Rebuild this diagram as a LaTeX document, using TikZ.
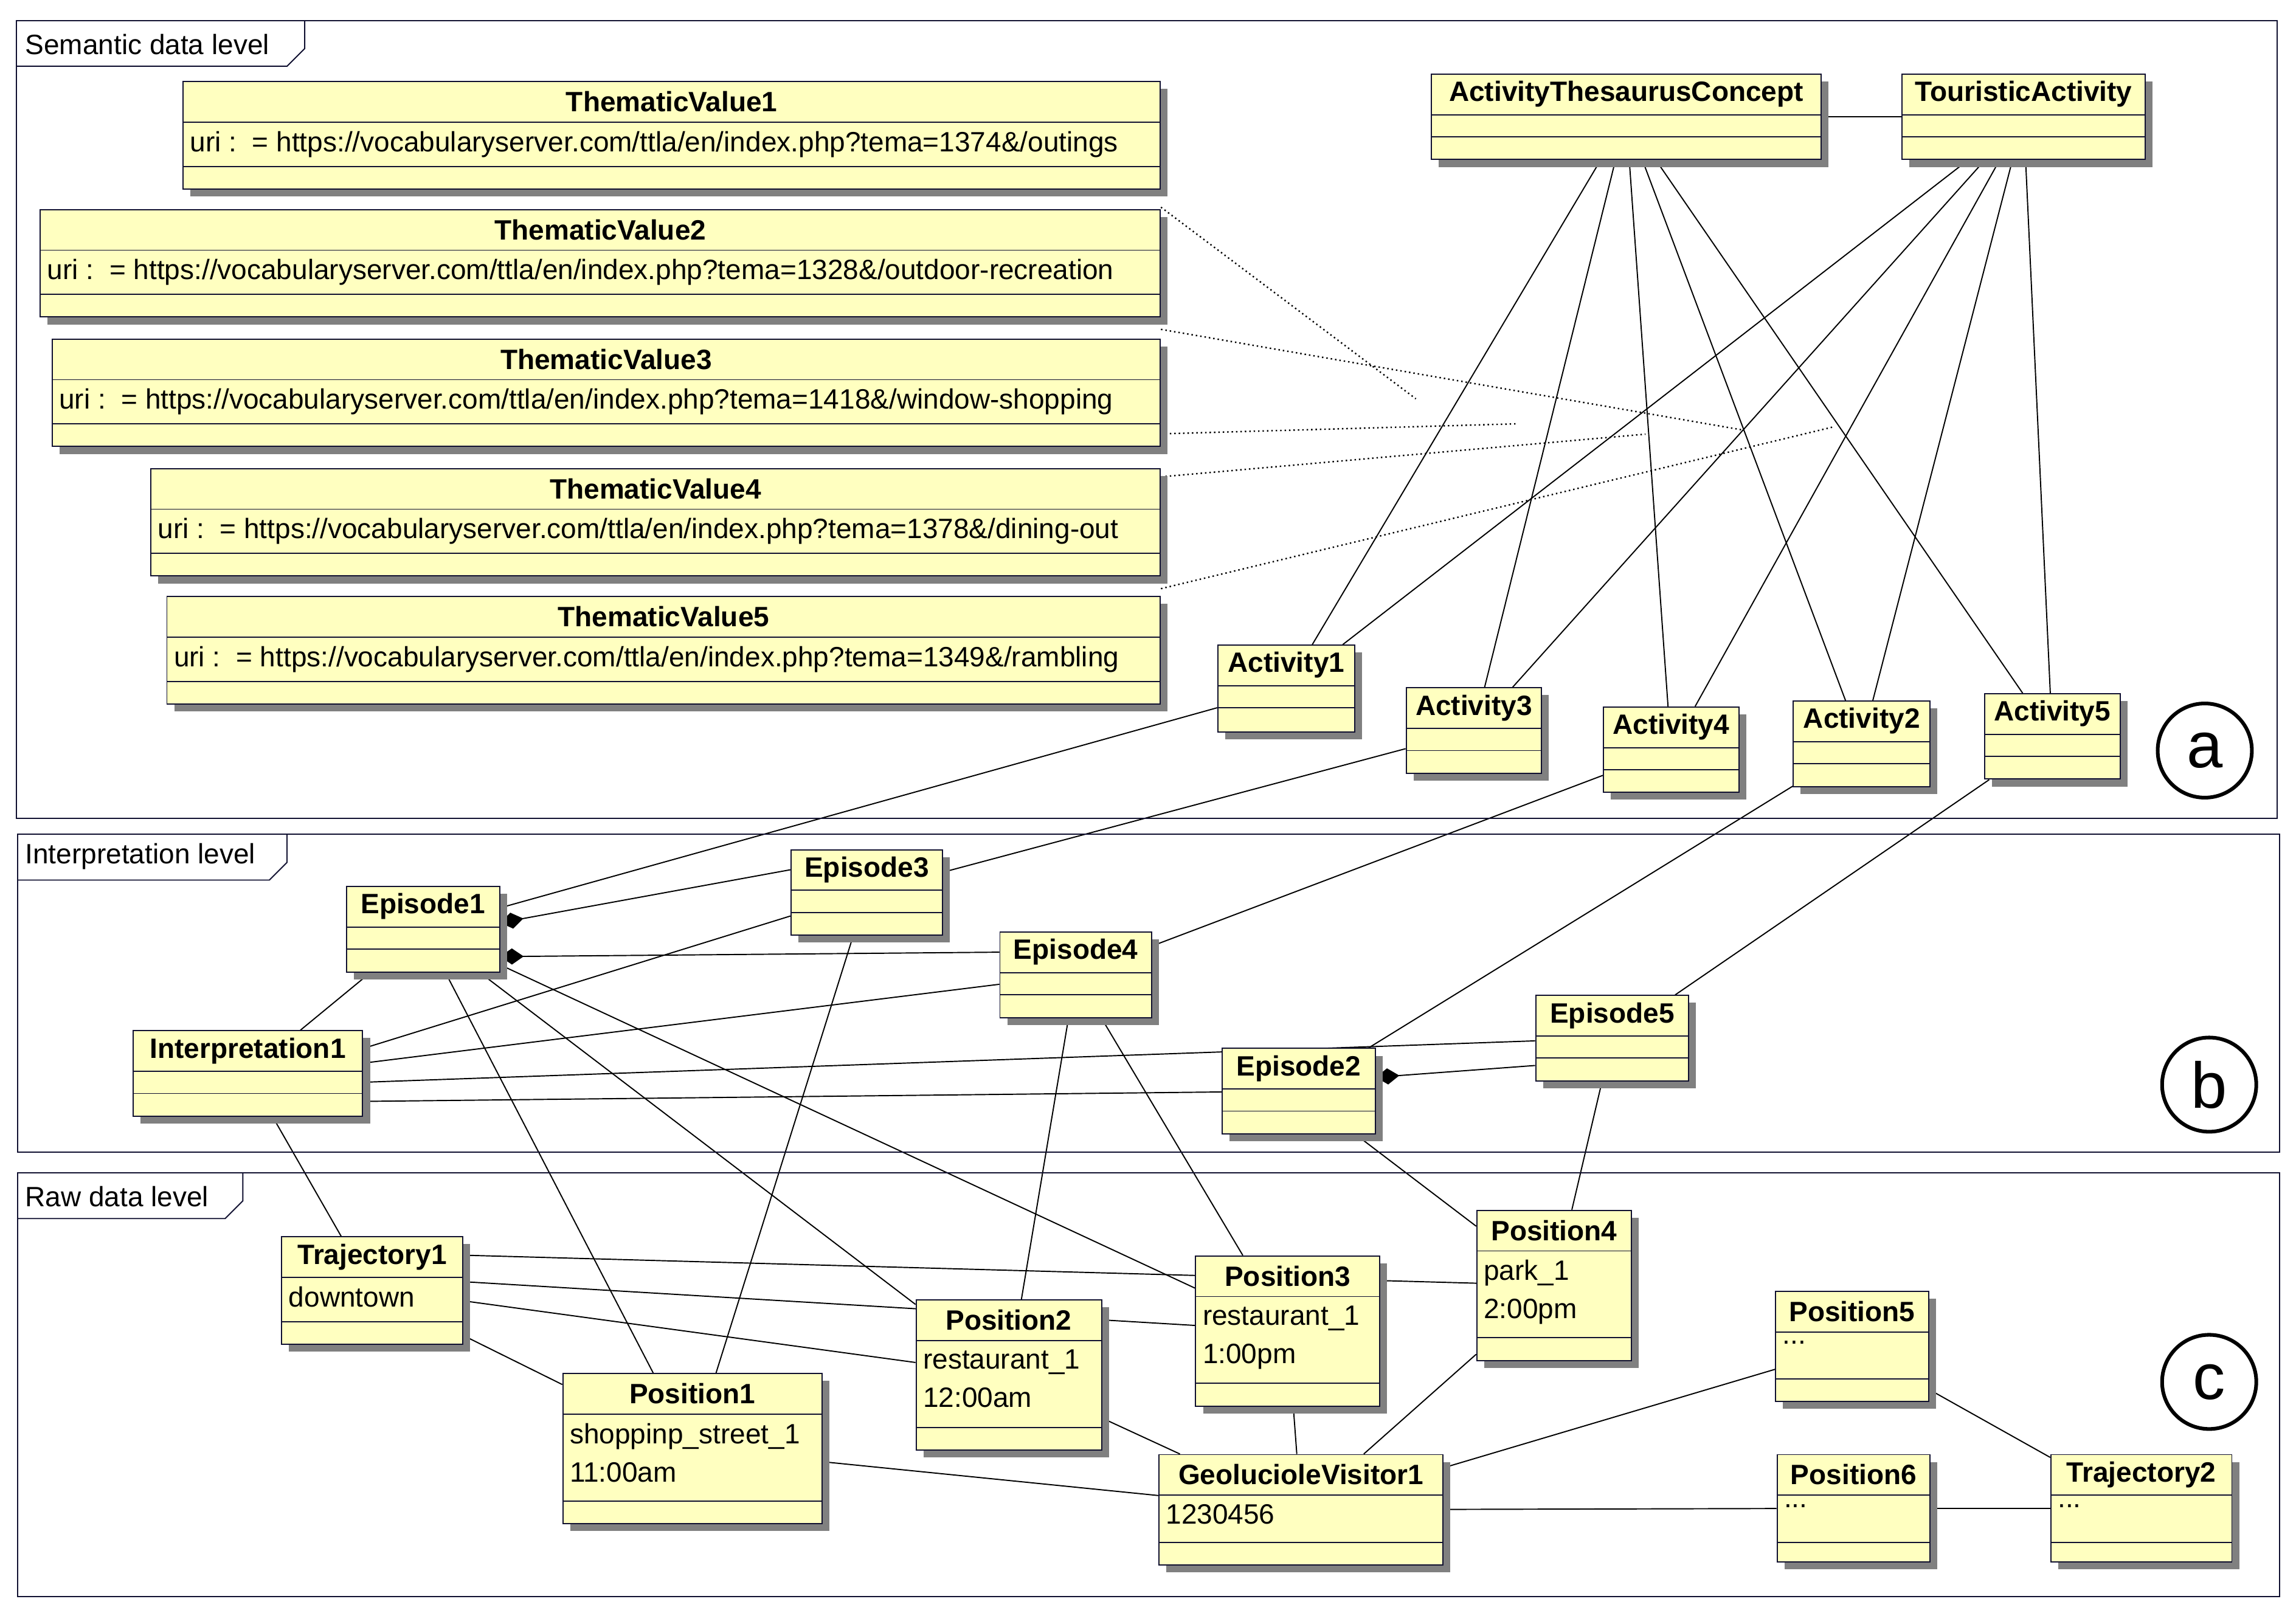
\documentclass[tikz,border=0pt]{standalone}
\usepackage{fontspec}
\setmainfont{Liberation Sans}
\usetikzlibrary{shapes,arrows.meta,positioning,calc,shadows}
\definecolor{clsfill}{RGB}{255,255,192}
\definecolor{clsdraw}{RGB}{16,16,48}
\pgfdeclarelayer{background}
\pgfsetlayers{background,main}

% UML class box: name, x, y, width, height, title, attributes, divider 1, divider 2
\newcommand{\umlclass}[9]{%
  \node[cls, minimum width=#4pt, minimum height=#5pt, anchor=north west] (#1) at (#2,#3) {};
  \draw[clsdraw, thick] ([yshift=-#8pt]#1.north west) -- ([yshift=-#8pt]#1.north east);
  \draw[clsdraw, thick] ([yshift=-#9pt]#1.north west) -- ([yshift=-#9pt]#1.north east);
  \node[font=\fontsize{19}{22}\selectfont\bfseries, inner sep=0pt] at ([yshift={-0.5pt*#8}]#1.north) {#6};
  \node[attr] at ([yshift=-#8pt]#1.north west) {#7};
}

\begin{document}
\begin{tikzpicture}[
    x=1pt, y=-1pt,
    cls/.style={
        rectangle, fill=clsfill, draw=clsdraw, thick, inner sep=0pt,
        drop shadow={shadow xshift=5pt, shadow yshift=-5pt, fill=gray, opacity=1}
    },
    attr/.style={
        anchor=north west, align=left, inner xsep=5pt, inner ysep=6pt,
        font=\fontsize{19}{26}\selectfont
    },
    frame/.style={draw=clsdraw, thick},
    tab/.style={anchor=west, font=\fontsize{19}{22}\selectfont, inner sep=0pt},
    level/.style={draw, line width=2.5pt, circle, minimum size=64pt, inner sep=0pt,
        font=\fontsize{44}{48}\selectfont},
    link/.style={draw, line width=0.8pt},
    trace/.style={draw, line width=1pt, dotted},
    comp/.style={link, -{Diamond[length=16pt, width=11pt]}}
]
\useasboundingbox (0,0) rectangle (1560,1096);

% Frames
\draw[frame] (11,14) rectangle (1547,556);
\draw[frame] (11,45) -- (195,45) -- (207,33) -- (207,14);
\node[tab] at (17,30) {Semantic data level};
\draw[frame] (12,567) rectangle (1549,783);
\draw[frame] (12,598) -- (183,598) -- (195,586) -- (195,567);
\node[tab] at (17,582) {Interpretation level};
\draw[frame] (12,797) rectangle (1549,1085);
\draw[frame] (12,828) -- (153,828) -- (165,816) -- (165,797);
\node[tab] at (17,813) {Raw data level};
\node[level] (la) at (1498,510) {a};
\node[level] (lb) at (1501,737) {b};
\node[level] (lc) at (1501,939) {c};

% Semantic data level
\umlclass{tv1}{124}{55}{664}{73}{ThematicValue1}{uri :\ \ = https://vocabularyserver.com/ttla/en/index.php?tema=1374\&/outings}{28}{58}
\umlclass{tv2}{27}{142}{761}{73}{ThematicValue2}{uri :\ \ = https://vocabularyserver.com/ttla/en/index.php?tema=1328\&/outdoor-recreation}{28}{58}
\umlclass{tv3}{35}{230}{753}{73}{ThematicValue3}{uri :\ \ = https://vocabularyserver.com/ttla/en/index.php?tema=1418\&/window-shopping}{28}{58}
\umlclass{tv4}{102}{318}{686}{73}{ThematicValue4}{uri :\ \ = https://vocabularyserver.com/ttla/en/index.php?tema=1378\&/dining-out}{28}{58}
\umlclass{tv5}{113}{405}{675}{73}{ThematicValue5}{uri :\ \ = https://vocabularyserver.com/ttla/en/index.php?tema=1349\&/rambling}{28}{58}
\umlclass{atc}{972}{50}{265}{58}{ActivityThesaurusConcept}{}{28}{43}
\umlclass{ta}{1292}{50}{165}{58}{TouristicActivity}{}{28}{43}
\umlclass{act1}{827}{438}{93}{59}{Activity1}{}{28}{43}
\umlclass{act3}{955}{467}{92}{58}{Activity3}{}{28}{43}
\umlclass{act4}{1089}{480}{92}{58}{Activity4}{}{28}{43}
\umlclass{act2}{1218}{476}{93}{58}{Activity2}{}{28}{43}
\umlclass{act5}{1348}{471}{92}{58}{Activity5}{}{28}{43}

% Interpretation level
\umlclass{ep1}{235}{602}{104}{58}{Episode1}{}{28}{43}
\umlclass{ep3}{537}{577}{103}{58}{Episode3}{}{28}{43}
\umlclass{ep4}{679}{633}{103}{58}{Episode4}{}{28}{43}
\umlclass{ep5}{1043}{676}{104}{58}{Episode5}{}{28}{43}
\umlclass{ep2}{830}{712}{104}{58}{Episode2}{}{28}{43}
\umlclass{interp}{90}{700}{156}{58}{Interpretation1}{}{28}{43}

% Raw data level
\umlclass{traj1}{191}{840}{123}{73}{Trajectory1}{downtown}{28}{58}
\umlclass{pos1}{382}{933}{176}{102}{Position1}{shoppinp\_street\_1\\11:00am}{28}{87}
\umlclass{pos2}{622}{883}{126}{102}{Position2}{restaurant\_1\\12:00am}{28}{87}
\umlclass{pos3}{812}{853}{125}{102}{Position3}{restaurant\_1\\1:00pm}{28}{87}
\umlclass{pos4}{1003}{822}{105}{102}{Position4}{park\_1\\2:00pm}{28}{87}
\umlclass{pos5}{1206}{877}{104}{75}{Position5}{...}{28}{60}
\umlclass{pos6}{1207}{988}{104}{73}{Position6}{...}{28}{60}
\umlclass{traj2}{1393}{988}{123}{73}{Trajectory2}{...}{28}{60}
\umlclass{geo}{787}{988}{193}{75}{GeolucioleVisitor1}{1230456}{28}{60}

\begin{pgfonlayer}{background}
% Dotted traces
\coordinate (d1) at (962,271);
\coordinate (d2) at (1183,292);
\coordinate (d3) at (1030,288);
\coordinate (d4) at (1118,295);
\coordinate (d5) at (1246,290);
\draw[trace] ([yshift=-12pt]tv1.south east) -- (d1);
\draw[trace] ([yshift=-8pt]tv2.south east) -- (d2);
\draw[trace] ([yshift=9pt]tv3.south east) -- (d3);
\draw[trace] ([yshift=-6pt]tv4.north east) -- (d4);
\draw[trace] ([yshift=5pt]tv5.north east) -- (d5);

% Semantic links
\draw[link] (atc) -- (ta);
\foreach \a in {act1,act3,act4,act2,act5} {
    \draw[link] (atc) -- (\a);
    \draw[link] (ta) -- (\a);
}
\draw[link] (act1) -- (ep1);
\draw[link] (act3) -- (ep3);
\draw[link] (act4) -- (ep4);
\draw[link] (act2) -- (ep2);
\draw[link] (act5) -- (ep5);

% Interpretation links
\draw[comp] ([yshift=-14pt]ep3.north west) -- ([yshift=-25pt]ep1.north east);
\draw[comp] ([yshift=-14pt]ep4.north west) -- ([yshift=-48pt]ep1.north east);
\draw[comp] ([yshift=-48pt]ep5.north west) -- ([yshift=-20pt]ep2.north east);
\draw[link] (interp) -- (ep1);
\draw[link] ([yshift=17pt]interp.east) -- (ep3);
\draw[link] ([yshift=7pt]interp.east) -- (ep4);
\draw[link] ([yshift=-6pt]interp.east) -- (ep5);
\draw[link] ([yshift=-19pt]interp.east) -- (ep2);
\draw[link] (interp) -- (traj1);

% Raw data links
\draw[link] (ep1) -- (pos1);
\draw[link] (ep1) -- (pos2);
\draw[link] (ep1) -- (pos3);
\draw[link] (ep3) -- (pos1);
\draw[link] (ep4) -- (pos2);
\draw[link] (ep4) -- (pos3);
\draw[link] (ep5) -- (pos4);
\draw[link] (ep2) -- (pos4);
\draw[link] ([yshift=24pt]traj1.east) -- (pos4);
\draw[link] ([yshift=6pt]traj1.east) -- (pos3);
\draw[link] ([yshift=-7pt]traj1.east) -- (pos2);
\draw[link] (traj1) -- (pos1);
\draw[link] (pos1) -- (geo);
\draw[link] (pos2) -- (geo);
\draw[link] (pos3) -- (geo);
\draw[link] (pos4) -- (geo);
\draw[link] (pos5) -- (geo);
\draw[link] (geo) -- (pos6);
\draw[link] (pos6) -- (traj2);
\draw[link] (pos5) -- (traj2);
\end{pgfonlayer}
\end{tikzpicture}
\end{document}
